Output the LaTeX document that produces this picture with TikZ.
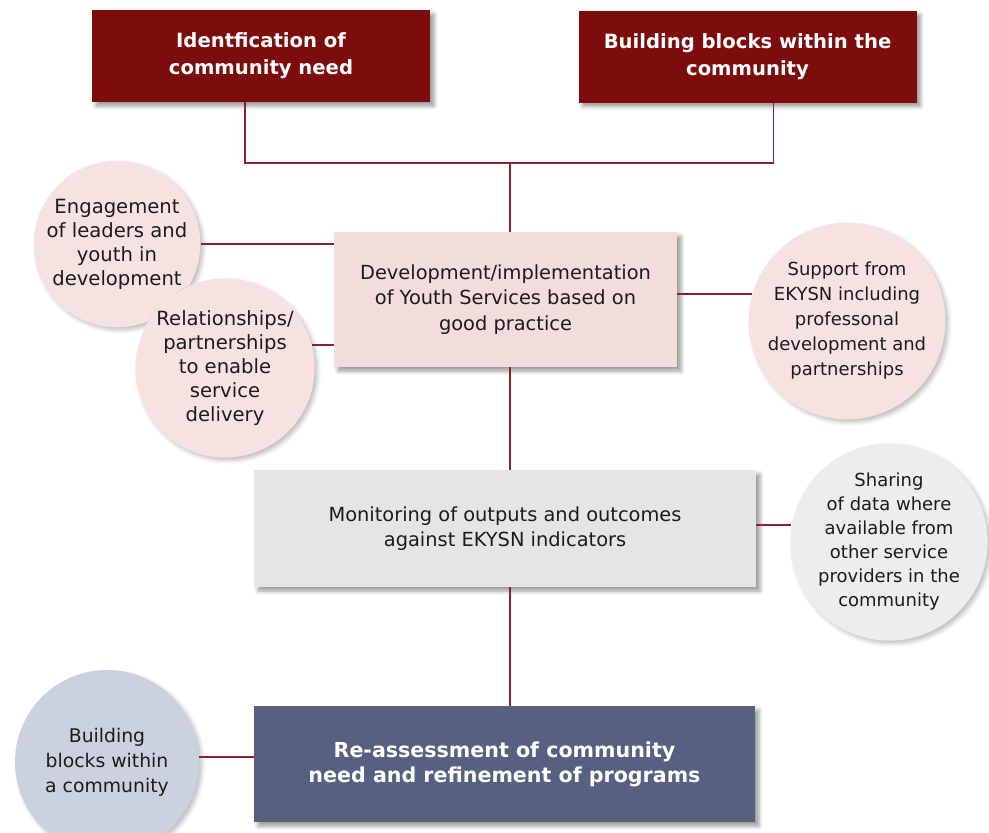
\documentclass[tikz,border=0pt]{standalone}
\usepackage{fontspec}
\setmainfont{DejaVu Sans}
\usetikzlibrary{shadows.blur}
\definecolor{headred}{RGB}{125,13,12}
\definecolor{devpink}{RGB}{242,220,220}
\definecolor{dotpink}{RGB}{247,226,226}
\definecolor{mongray}{RGB}{229,229,229}
\definecolor{dotgray}{RGB}{237,237,237}
\definecolor{reablue}{RGB}{87,96,128}
\definecolor{dotblue}{RGB}{203,209,223}
\definecolor{linkred}{RGB}{140,32,45}
\definecolor{ink}{RGB}{28,28,28}
\begin{document}
\begin{tikzpicture}[x=.5pt,y=-.5pt,
  every node/.style={align=center,text=ink,inner sep=0pt,font=\fontsize{9.7}{12.8}\selectfont},
  shade box/.style={blur shadow={shadow xshift=2pt,shadow yshift=-2pt,shadow blur radius=2pt,shadow opacity=40}},
  shade dot/.style={blur shadow={shadow xshift=1.5pt,shadow yshift=-1.5pt,shadow blur radius=2pt,shadow opacity=25}},
  head/.style={shade box,fill=headred,text=white,font=\bfseries\fontsize{9.8}{13.5}\selectfont,minimum width=169pt,minimum height=46pt},
  dot/.style={shade dot,circle,fill=dotpink,minimum size=#1},
  link/.style={draw=linkred,line width=.8pt}]
\useasboundingbox (0,0) rectangle (989,832);
\node[head] (idn) at (261,56) {Identfication of\\community need};
\node[head] (bbt) at (747.5,56.5) {Building blocks within the\\community};
\node[shade box,fill=devpink,minimum width=171.5pt,minimum height=67.5pt] (dev) at (505.5,299.5) {Development/implementation\\of Youth Services based on\\good practice};
\node[shade box,fill=mongray,minimum width=251pt,minimum height=58.5pt] (mon) at (505,528.5) {Monitoring of outputs and outcomes\\against EKYSN indicators};
\node[shade box,fill=reablue,text=white,font=\bfseries\fontsize{10.3}{12.5}\selectfont,minimum width=250.5pt,minimum height=58pt] (rea) at (504.5,764) {Re-assessment of community\\need and refinement of programs};
\node[dot=80pt,font=\fontsize{9.8}{12}\selectfont] (eng) at (117,244) {Engagement\\of leaders and\\youth in\\development};
\node[dot=79pt,font=\fontsize{9.8}{12}\selectfont] (rel) at (225,368) {Relationships/\\partnerships\\to enable\\service\\delivery};
\node[dot=93pt,font=\fontsize{9}{12.5}\selectfont] (sup) at (847,321) {Support from\\EKYSN including\\professonal\\development and\\partnerships};
\node[dot=93pt,fill=dotgray,font=\fontsize{9}{12}\selectfont] (shr) at (889,542) {Sharing\\of data where\\available from\\other service\\providers in the\\community};
\node[dot=92pt,fill=dotblue,font=\fontsize{9.4}{12.5}\selectfont] (bbc) at (107,762) {Building\\blocks within\\a community};
\coordinate (hub) at (510,163);
\draw[link] ([xshift=-8pt]idn.south) |- (hub) -| ([xshift=13pt]bbt.south);
\draw[link] (hub) -- (hub |- dev.north);
\draw[link] (dev.south -| hub) -- (mon.north -| hub);
\draw[link] (mon.south -| hub) -- (rea.north -| hub);
\draw[link] (eng.east) -- (dev.west |- eng.east);
\draw[link] (rel.15) -- (dev.west |- rel.15);
\draw[link] (dev.east |- sup.164) -- (sup.164);
\draw[link] (mon.east |- shr.170) -- (shr.170);
\draw[link] (bbc.3) -- (rea.west |- bbc.3);
\end{tikzpicture}
\end{document}
